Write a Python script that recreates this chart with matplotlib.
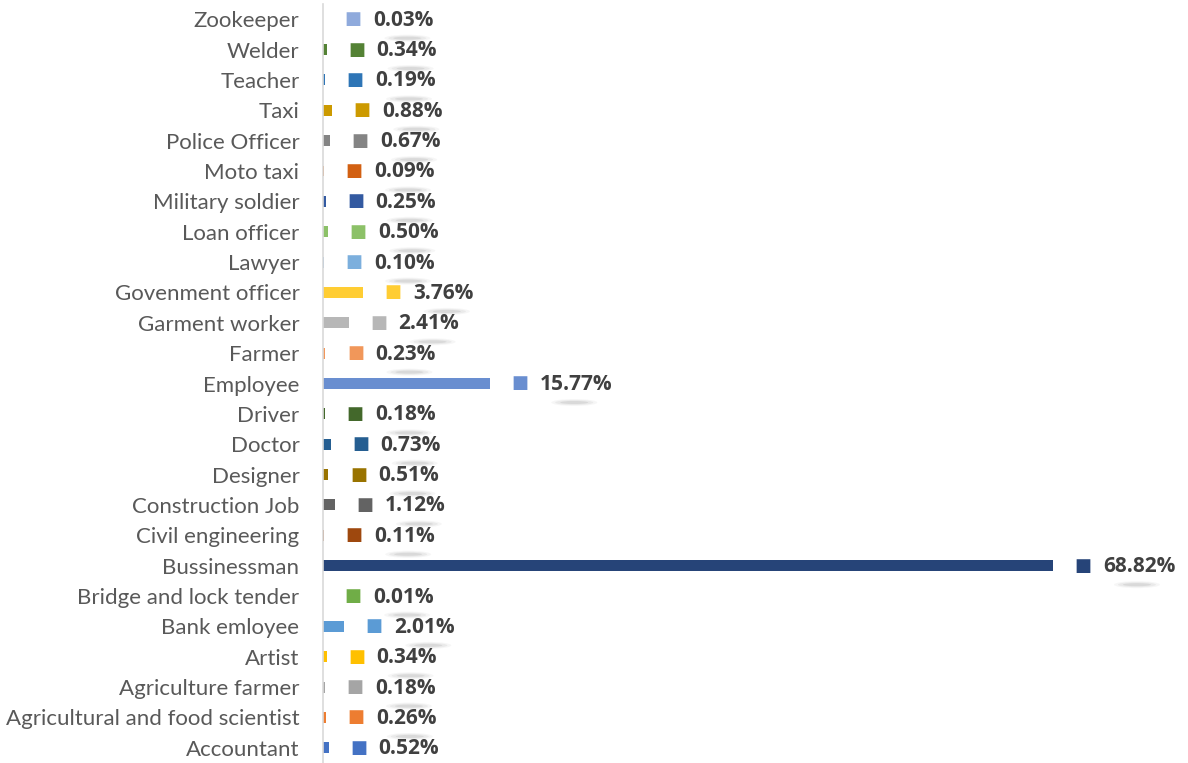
import matplotlib.pyplot as plt
import matplotlib.transforms as mtransforms
from matplotlib.patches import Ellipse

# occupation share, bottom to top as drawn
jobs = ["Accountant", "Agricultural and food scientist", "Agriculture farmer", "Artist",
        "Bank emloyee", "Bridge and lock tender", "Bussinessman", "Civil engineering",
        "Construction Job", "Designer", "Doctor", "Driver", "Employee", "Farmer",
        "Garment worker", "Govenment officer", "Lawyer", "Loan officer", "Military soldier",
        "Moto taxi", "Police Officer", "Taxi", "Teacher", "Welder", "Zookeeper"]
share = [0.52, 0.26, 0.18, 0.34, 2.01, 0.01, 68.82, 0.11, 1.12, 0.51, 0.73, 0.18, 15.77,
         0.23, 2.41, 3.76, 0.10, 0.50, 0.25, 0.09, 0.67, 0.88, 0.19, 0.34, 0.03]
colors = ["#4472C4", "#ED7D31", "#A5A5A5", "#FFC000", "#5B9BD5", "#70AD47", "#264478",
          "#9E480E", "#636363", "#997300", "#255E91", "#43682B", "#698ED0", "#F1975A",
          "#B7B7B7", "#FFCD33", "#7CAFDD", "#8CC168", "#335AA1", "#D26012", "#848484",
          "#CC9A00", "#2E75B6", "#548235", "#8FAADC"]

fig = plt.figure(figsize=(11.88, 7.63), dpi=100)
ax = fig.add_axes([323 / 1188, 0.0, 857 / 1188, 1 - 4 / 763])

ypos = list(range(len(jobs)))
ax.barh(ypos, share, height=0.36, color=colors)
ax.set_xlim(0, 80.8)
ax.set_ylim(-0.5, len(jobs) - 0.5)

# data labels with legend key, Excel style
for y, v, c in zip(ypos, share, colors):
    ax.annotate("\u25A0", (v, y), xytext=(30, 0), textcoords="offset pixels",
                ha="center", va="center", fontsize=13, color=c, family="DejaVu Sans")
    ax.annotate(f"{v:.2f}%", (v, y), xytext=(50, -1), textcoords="offset pixels",
                ha="left", va="center", fontsize=15, fontweight="bold",
                color="#404040", family="Open Sans")
    # soft shadow under the label (sized in pixels, anchored at the bar end)
    tr = mtransforms.ScaledTranslation(v, y, ax.transData)
    for w, h, a in [(46, 7, 0.05), (38, 5, 0.08), (28, 3, 0.12)]:
        ax.add_patch(Ellipse((84, -19), w, h, transform=tr, facecolor="#606060",
                             edgecolor="none", alpha=a, clip_on=False))

ax.set_yticks(ypos)
ax.set_yticklabels(jobs, fontsize=16, color="#595959", family="Lato")
ax.tick_params(axis="y", length=0, pad=17)
ax.set_xticks([])
for s in ["top", "right", "bottom"]:
    ax.spines[s].set_visible(False)
ax.spines["left"].set_color("#D9D9D9")
ax.spines["left"].set_linewidth(1.2)

fig.savefig("out.png", dpi=100)
